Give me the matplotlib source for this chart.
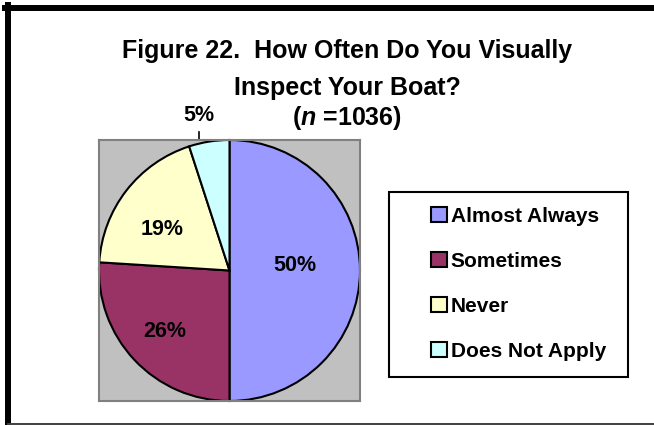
import numpy as np
import matplotlib
matplotlib.use('Agg')
import matplotlib.pyplot as plt
from matplotlib.patches import Rectangle
from matplotlib.lines import Line2D

# survey answers (n = 1036)
categories = ['Almost Always', 'Sometimes', 'Never', 'Does Not Apply']
shares = [50, 26, 19, 5]
colors = ['#9999FF', '#993366', '#FFFFCC', '#CCFFFF']
title_lines = ['Figure 22.  How Often Do You Visually', 'Inspect Your Boat?', r'($\mathit{n}$ =1036)']

plt.rcParams['font.family'] = ['Liberation Sans', 'DejaVu Sans']
plt.rcParams['mathtext.fontset'] = 'custom'
plt.rcParams['mathtext.it'] = 'Liberation Sans:italic:bold'
plt.rcParams['mathtext.rm'] = 'Liberation Sans:bold'

W, H = 654, 425
fig = plt.figure(figsize=(W / 100, H / 100), dpi=100)


def fx(x):
    return x / W


def fy(y):
    return 1 - y / H


# outer chart frame (left/top heavy, bottom thin)
fig.add_artist(Line2D([fx(8), fx(8)], [fy(5), fy(425)], color='black', lw=4.3))
fig.add_artist(Line2D([fx(5), fx(654)], [fy(8), fy(8)], color='black', lw=4.3))
fig.add_artist(Line2D([fx(8), fx(654)], [fy(423.5), fy(423.5)], color='#404040', lw=1.4))

# plot area
ax = fig.add_axes([fx(99), fy(401), 261 / W, 261 / H])
ax.set_facecolor('#C0C0C0')
for s in ax.spines.values():
    s.set_color('#808080')
    s.set_linewidth(1.5)

wedges, texts, autotexts = ax.pie(
    shares, colors=colors, startangle=90, counterclock=False,
    autopct='%.0f%%', pctdistance=0.68, frame=True,
    wedgeprops=dict(edgecolor='black', linewidth=1.5),
    textprops=dict(fontsize=15.5, fontweight='bold'))
ax.set_xlim(-1, 1)
ax.set_ylim(-1, 1)
ax.set_xticks([])
ax.set_yticks([])


def mid(w):
    return np.deg2rad((w.theta1 + w.theta2) / 2)


# nudge inside labels the way Excel places them
m0 = mid(wedges[0])
autotexts[0].set_position((0.5 * np.cos(m0), 0.5 * np.sin(m0) + 0.04))
m2 = mid(wedges[2])
autotexts[2].set_position((0.68 * np.cos(m2) + 0.02, 0.68 * np.sin(m2) - 0.1))

# small slice: label outside with leader line
m3 = mid(wedges[-1])
ex, ey = np.cos(m3), np.sin(m3)
lx = ex - 0.08
autotexts[-1].set_position((lx, 1.19))
autotexts[-1].set_clip_on(False)
ax.plot([ex, lx, lx], [ey + 0.01, ey + 0.01, 1.06], color='black', lw=1.2, clip_on=False)

# title
for txt, yy in zip(title_lines, [51, 88, 118]):
    fig.text(fx(347), fy(yy), txt, ha='center', va='center', fontsize=18, fontweight='bold')

# legend box
fig.add_artist(Rectangle((fx(389), fy(377)), fx(628) - fx(389), fy(192) - fy(377),
                         transform=fig.transFigure, facecolor='white', edgecolor='black', lw=1.5))
fig.legend(wedges, categories, loc='upper left', bbox_to_anchor=(fx(431), fy(207)),
           frameon=False, prop=dict(size=15, weight='bold'),
           handlelength=0.75, handleheight=0.75, handletextpad=0.2,
           labelspacing=1.25, borderpad=0, borderaxespad=0)

fig.savefig('out.png', dpi=100)
